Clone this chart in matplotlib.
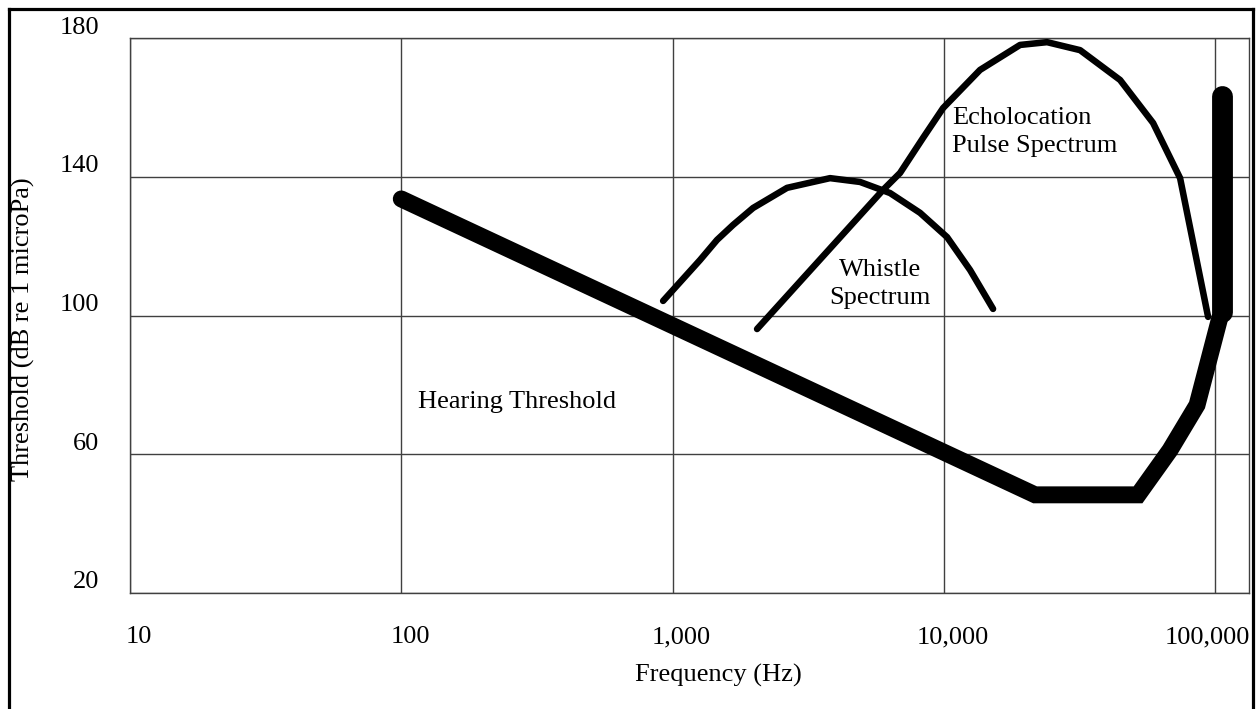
import matplotlib
matplotlib.use("Agg")
import matplotlib.pyplot as plt
from matplotlib.lines import Line2D
from matplotlib.transforms import ScaledTranslation

# ---- data ----
hearing_freq = [100, 21700, 52000, 68200, 85800, 104300]
hearing_db = [133.6, 48.3, 48.3, 61.2, 74.2, 99.6]
hearing_top_freq = [106100, 106100]
hearing_top_db = [101.0, 163.4]

whistle_freq = [923, 1263, 1459, 1671, 1981, 2643, 3807, 4912, 6336, 8173, 10280, 12500, 15190]
whistle_db = [104.2, 116.0, 121.8, 126.1, 131.0, 136.8, 139.6, 138.5, 135.3, 129.6, 122.6, 113.1, 101.9]

echo_freq = [2049, 5970, 6898, 8383, 9936, 13600, 19100, 24020, 31790, 44640, 59080, 74300, 94240]
echo_db = [96.1, 136.2, 141.1, 151.2, 159.8, 170.8, 178.0, 178.8, 176.5, 167.9, 155.5, 139.6, 99.6]

x_ticks = [10, 100, 1000, 10000, 100000]
x_tick_labels = ["10", "100", "1,000", "10,000", "100,000"]
y_ticks = [20, 60, 100, 140, 180]

FONT = "Liberation Serif"
FS = 19
GRID = "#404040"

fig = plt.figure(figsize=(12.58, 7.09), dpi=100)
W, H = 1258, 709
ax = fig.add_axes([130 / W, (H - 593) / H, (1249 - 130) / W, (593 - 38) / H])

ax.set_xscale("log")
ax.set_xlim(10, 133350)
ax.set_ylim(20, 180)

ax.plot(hearing_freq, hearing_db, color="black", lw=12.2,
        solid_capstyle="round", solid_joinstyle="miter", zorder=3)
ax.plot(hearing_top_freq, hearing_top_db, color="black", lw=15.0,
        solid_capstyle="round", zorder=3)
ax.plot(whistle_freq, whistle_db, color="black", lw=4.7,
        solid_capstyle="round", solid_joinstyle="round", zorder=3)
ax.plot(echo_freq, echo_db, color="black", lw=4.7,
        solid_capstyle="round", solid_joinstyle="round", zorder=3)

# va="baseline" on multi-line text pins the last line
ax.text(115.3, 73.3, "Hearing Threshold", family=FONT, fontsize=FS,
        ha="left", va="baseline")
ax.text(5821, 103.3, "Whistle\nSpectrum", family=FONT, fontsize=FS,
        ha="center", va="baseline", multialignment="center", linespacing=1.38)
ax.text(10725, 147.1, "Echolocation\nPulse Spectrum", family=FONT, fontsize=FS,
        ha="left", va="baseline", multialignment="left", linespacing=1.38)

# grid and frame
ax.grid(True, which="major", color=GRID, lw=1.0)
ax.minorticks_off()
for s in ax.spines.values():
    s.set_color(GRID)
    s.set_linewidth(1.0)
ax.set_axisbelow(True)

ax.set_xticks(x_ticks)
ax.set_xticklabels(x_tick_labels, family=FONT, fontsize=FS)
ax.set_yticks(y_ticks)
ax.set_yticklabels([str(v) for v in y_ticks], family=FONT, fontsize=FS)
ax.tick_params(axis="both", length=0)
ax.tick_params(axis="x", pad=24)
ax.tick_params(axis="y", pad=22)

# labels sit a little off their grid lines, like the original
x_shift = [0.09, 0.09, 0.09, 0.09, -0.08]
for lab, dx in zip(ax.get_xticklabels(), x_shift):
    lab.set_transform(lab.get_transform() + ScaledTranslation(dx, 0, fig.dpi_scale_trans))
for lab in ax.get_yticklabels():
    lab.set_transform(lab.get_transform() + ScaledTranslation(0, 0.13, fig.dpi_scale_trans))

fig.text(718 / W, 1 - 682 / H, "Frequency (Hz)", family=FONT, fontsize=FS,
         ha="center", va="baseline")
fig.text(23 / W, 1 - 329 / H, "Threshold (dB re 1 microPa)", family=FONT,
         fontsize=FS, rotation=90, ha="center", va="center")

# outer border (open at the bottom)
bx0, bx1, by = 8.5 / W, 1253 / W, 1 - 8.5 / H
for xs, ys in [([bx0, bx0], [0, by]), ([bx0, bx1], [by, by]), ([bx1, bx1], [by, 0])]:
    fig.add_artist(Line2D(xs, ys, transform=fig.transFigure, color="black", lw=2.3))

fig.savefig("out.png", dpi=100, facecolor="white")
